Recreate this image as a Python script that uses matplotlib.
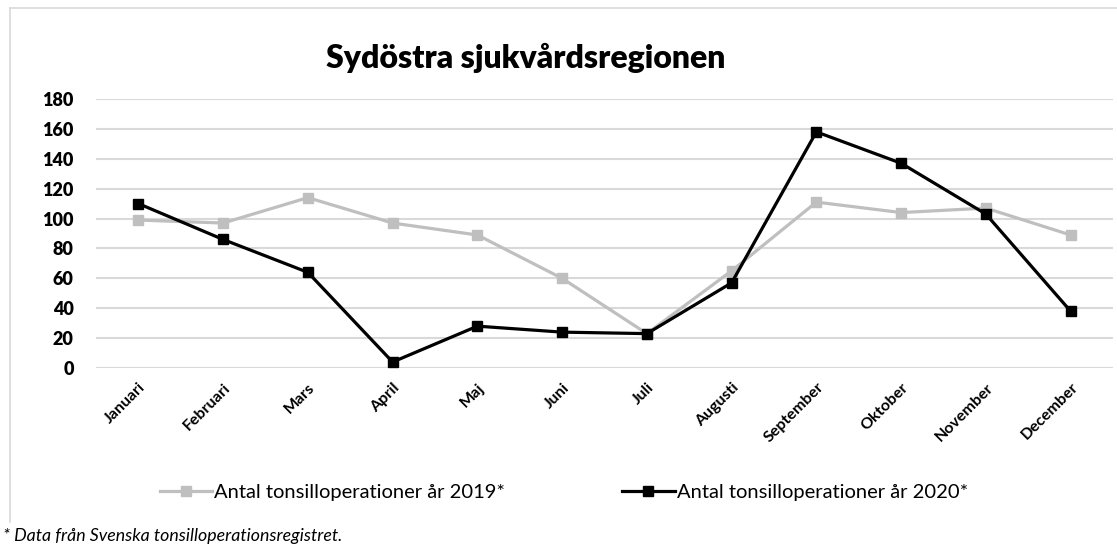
import numpy as np
import matplotlib.pyplot as plt
from matplotlib.lines import Line2D

plt.rcParams['font.family'] = ['Lato', 'DejaVu Sans']

# data
months = ['Januari', 'Februari', 'Mars', 'April', 'Maj', 'Juni', 'Juli',
          'Augusti', 'September', 'Oktober', 'November', 'December']
ops_2019 = [99, 97, 114, 97, 89, 60, 23, 65, 111, 104, 107, 89]
ops_2020 = [110, 86, 64, 4, 28, 24, 23, 57, 158, 137, 103, 38]
label_2019 = 'Antal tonsilloperationer år 2019*'
label_2020 = 'Antal tonsilloperationer år 2020*'
yticks = [0, 20, 40, 60, 80, 100, 120, 140, 160, 180]

W, H = 1117, 548
fig = plt.figure(figsize=(W / 100, H / 100), dpi=100)

# frame of the chart area (cropped on the right)
fig.add_artist(Line2D([10 / W, 1.0], [1 - 8 / H, 1 - 8 / H], color='#d9d9d9', lw=1.2))
fig.add_artist(Line2D([10 / W, 10 / W], [1 - 8 / H, 1 - 522 / H], color='#d9d9d9', lw=1.2))

ax = fig.add_axes([96 / W, (H - 368) / H, (1113 - 96) / W, (368 - 99) / H])
x = np.arange(len(months))

ax.plot(x, ops_2019, color='#bfbfbf', lw=2.3, marker='s', ms=7.5,
        label=label_2019, zorder=3)
ax.plot(x, ops_2020, color='black', lw=2.3, marker='s', ms=7.5,
        label=label_2020, zorder=4)

ax.set_xlim(-0.5, len(months) - 0.5)
ax.set_ylim(0, 180)
ax.set_yticks(yticks)
ax.set_yticklabels([str(v) for v in yticks], fontweight='heavy', fontsize=13)
ax.yaxis.grid(True, color='#d9d9d9', lw=1.5)
ax.set_axisbelow(True)
ax.tick_params(axis='both', length=0)
ax.tick_params(axis='y', pad=16)
ax.set_xticks(x)
ax.set_xticklabels(months, rotation=45, ha='right', rotation_mode='anchor',
                   fontweight='bold', fontsize=11.5)
ax.tick_params(axis='x', pad=9)
for s in ax.spines.values():
    s.set_visible(False)

fig.text(526 / W, 1 - 58 / H, 'Sydöstra sjukvårdsregionen', ha='center', va='center',
         fontsize=23, fontweight='heavy')

fig.legend(loc='center', bbox_to_anchor=(564 / W, 1 - 492 / H), ncol=2,
           frameon=False, fontsize=14.5, handlelength=2.6, handletextpad=0.1,
           columnspacing=5.8, numpoints=1)

fig.text(3 / W, 1 - 536 / H, '* Data från Svenska tonsilloperationsregistret.',
         ha='left', va='center', fontsize=12.8, style='italic')

plt.savefig('out.png', dpi=100)
